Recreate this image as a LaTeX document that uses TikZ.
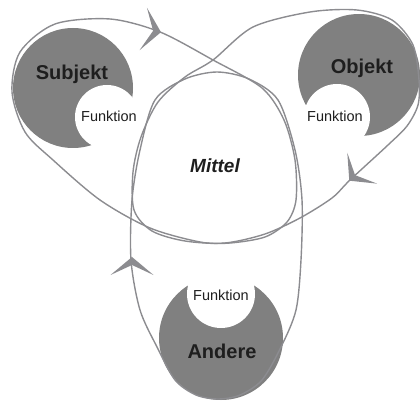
\documentclass[tikz,border=0pt]{standalone}
\usepackage{fontspec}
\setmainfont{Liberation Sans}
\definecolor{blobgray}{RGB}{128,128,128}
\definecolor{linegray}{RGB}{140,140,144}
\definecolor{txt}{RGB}{30,30,30}
\begin{document}
\begin{tikzpicture}[x=1pt,y=-1pt,
  loopline/.style={draw=linegray, line width=1.4pt},
  blob/.style={fill=blobgray},
  hole/.style={fill=white},
  bigtext/.style={font=\fontsize{20}{20}\selectfont\bfseries, text=txt, inner sep=0pt, anchor=base},
  smalltext/.style={font=\fontsize{14.5}{14.5}\selectfont, text=txt, inner sep=0pt, anchor=base},
  arrowhd/.pic={\fill[linegray] (1,0) -- (-17,21.5) .. controls (-12,10) .. (-7,0)
     .. controls (-12,-10) .. (-17,-21.5) -- cycle;},
]
\useasboundingbox (0,0) rectangle (420,403);

% blobs
\fill[blob] (73,88) circle[radius=60];
\fill[hole] (107,117) circle[radius=32];
\fill[blob] (359,75) circle[radius=61];
\fill[hole] (337,117) circle[radius=33];
\fill[blob] (221,338) circle[radius=62];
\fill[hole] (221,294) circle[radius=34];

% loops
\draw[loopline] plot[smooth cycle] coordinates {
 (217,72) (249,79) (278,100) (295,150) (302,200) (301,260) (296,310) (281,347)
 (262,380) (240,395) (218,399) (196,395) (175,380) (157,347) (140,310) (131,260)
 (132,200) (140,150) (155,100) (185,79)};
\draw[loopline] plot[smooth cycle] coordinates {
 (12,92) (20,52) (55,24) (110,19) (160,32) (213,60) (262,88) (284,120) (295,160)
 (296,200) (287,222) (265,237) (230,243) (200,242) (150,228) (100,200) (53,160) (25,132)};
\draw[loopline] plot[smooth cycle] coordinates {
 (419,80) (418,105) (407,126) (388,145) (350,180) (332,198) (300,218) (265,234)
 (225,243) (185,241) (152,231) (134,210) (133,172) (141,137) (158,102) (185,77)
 (213,60) (253,27) (310,12) (357,10) (392,20) (413,45)};

% arrow heads
\coordinate (sa) at (160,32);
\coordinate (oa) at (350,180);
\coordinate (aa) at (132,258);
\pic[rotate=-10] at (sa) {arrowhd};
\pic[rotate=224] at (oa) {arrowhd};
\pic[rotate=90] at (aa) {arrowhd};

% texts
\node[bigtext] (subj) at (72,80) {Subjekt};
\node[bigtext] (obj) at (362,74) {Objekt};
\node[bigtext] (and) at (222,358) {Andere};
\node[smalltext] (fs) at (109,122) {Funktion};
\node[smalltext] (fo) at (335,122) {Funktion};
\node[smalltext] (fa) at (221,300) {Funktion};
\node[font=\fontsize{19}{19}\selectfont\bfseries\itshape, text=txt, inner sep=0pt, anchor=base] (mittel) at (215,173) {Mittel};
\end{tikzpicture}
\end{document}
